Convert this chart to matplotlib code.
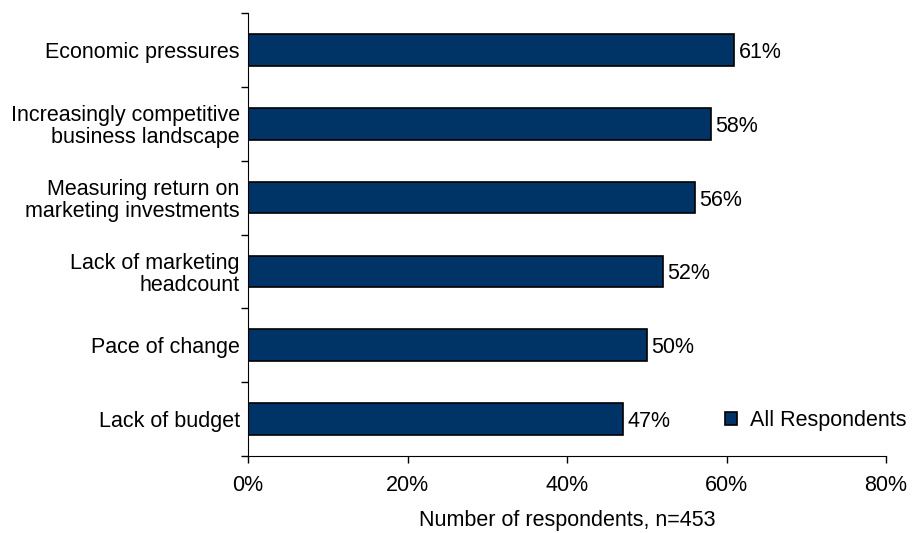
import matplotlib.pyplot as plt
import numpy as np

plt.rcParams['font.family'] = ['Liberation Sans', 'DejaVu Sans']

# dane
kategorie = ["Economic pressures",
             "Increasingly competitive\nbusiness landscape",
             "Measuring return on\nmarketing investments",
             "Lack of marketing\nheadcount",
             "Pace of change",
             "Lack of budget"]
wartosci = [61, 58, 56, 52, 50, 47]
seria = "All Respondents"

kolor = "#003366"
rozmiar = 15.5

fig = plt.figure(figsize=(9.13, 5.33), dpi=100)
ax = fig.add_axes([248 / 913, 1 - 456 / 533, 638 / 913, 443 / 533])

y = np.arange(len(kategorie))[::-1]
ax.barh(y, wartosci, height=0.43, color=kolor, edgecolor="black",
        linewidth=1.2, label=seria)

# etykiety z wartościami przy słupkach
for yi, v in zip(y, wartosci):
    ax.text(v + 0.6, yi, f"{v}%", va="center_baseline", ha="left",
            fontsize=rozmiar)

ax.set_xlim(0, 80)
ax.set_ylim(-0.5, len(kategorie) - 0.5)
ax.set_xticks([0, 20, 40, 60, 80])
ax.set_xticklabels([f"{t}%" for t in [0, 20, 40, 60, 80]], fontsize=rozmiar)
ax.set_yticks(y)
ax.set_yticklabels(kategorie, fontsize=rozmiar, linespacing=1.05)
ax.set_yticks(np.arange(-0.5, len(kategorie)), minor=True)
ax.tick_params(axis="y", which="major", length=0, pad=6)
ax.tick_params(axis="y", which="minor", length=5, width=1)
ax.tick_params(axis="x", length=5, width=1, pad=9)
ax.set_xlabel("Number of respondents, n=453", fontsize=rozmiar, labelpad=10)

for s in ["top", "right"]:
    ax.spines[s].set_visible(False)

ax.legend(loc="lower right", bbox_to_anchor=(1.062, 0.013), frameon=False,
          fontsize=rozmiar, handlelength=0.55, handleheight=0.55,
          handletextpad=0.6)

fig.savefig("out.png", dpi=100)
